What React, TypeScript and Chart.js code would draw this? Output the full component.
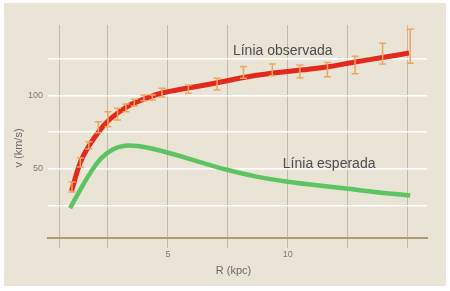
import React, { useEffect, useRef } from 'react';
import { Chart, registerables } from 'chart.js';

Chart.register(...registerables);

// Observed data points (R in kpc, v in km/s) with error half-widths
const obsR = [1.0, 1.35, 1.7, 2.1, 2.5, 2.9, 3.25, 3.6, 4.0, 4.35, 4.75, 5.85, 7.05, 8.15, 9.35, 10.5, 11.65, 12.8, 13.95, 15.1];
const obsV = [37.7, 54.4, 66.1, 78.4, 83.9, 87.4, 91.6, 95.1, 98.4, 98.6, 102, 104.3, 107.7, 115.7, 117.4, 116.3, 117.6, 120.8, 128.5, 133.5];
const obsErr = [3.4, 3, 2.5, 3.7, 5.1, 4, 2.6, 2.3, 2, 1.7, 3, 2.8, 4, 4, 4, 4.4, 4.8, 6, 7, 11.6];

// Observed curve (red)
const fitR = [0.98, 1.35, 1.7, 2.17, 2.5, 2.9, 3.25, 3.6, 4.0, 4.75, 5.6, 7.0, 8.4, 10.5, 11.6, 12.8, 14.0, 15.05];
const fitV = [35, 54.5, 65.5, 76.5, 82.6, 88, 92, 95, 97.6, 101.7, 104.4, 108.5, 113, 117.3, 119.4, 122.8, 126, 128.9];

// Expected curve (green)
const expR = [0.92, 1.25, 1.75, 2.2, 2.7, 3.2, 3.75, 4.4, 5.2, 6.3, 7.5, 8.7, 10, 11.2, 12.5, 13.7, 15.1];
const expV = [23.4, 33, 47, 57, 63.3, 65.8, 65.6, 63.6, 60.2, 54.8, 49.3, 44.8, 41.3, 38.9, 36.5, 34.2, 32];

const xGridTicks = [0.5, 2.5, 5, 7.5, 10, 12.5, 15];
const xTickLabels = [5, 10];
const yGridTicks = [25, 50, 75, 100, 125];
const yTickLabels = [50, 100];

const xTitle = 'R (kpc)';
const yTitle = 'v (km/s)';
const annotationTexts = ['Línia observada', 'Línia esperada'];
const annotationR = [7.71, 9.79];
const annotationV = [127.6, 50.6];

const FONT = '"Liberation Sans", Arial, Helvetica, sans-serif';

export default function App() {
  const canvasRef = useRef<HTMLCanvasElement | null>(null);

  useEffect(() => {
    const canvas = canvasRef.current;
    if (!canvas) return;

    const bgPlugin = {
      id: 'bg',
      beforeDraw(chart: any) {
        const { ctx } = chart;
        ctx.save();
        ctx.fillStyle = '#ffffff';
        ctx.fillRect(0, 0, chart.width, chart.height);
        ctx.fillStyle = '#e9e4d5';
        ctx.fillRect(4, 3, 442, 283);
        ctx.restore();
      },
    };

    const errPlugin = {
      id: 'errbars',
      afterDatasetsDraw(chart: any) {
        const { ctx } = chart;
        const xs = chart.scales.x;
        const ys = chart.scales.y;
        ctx.save();
        ctx.strokeStyle = '#f0a55c';
        ctx.lineWidth = 1.5;
        obsR.forEach((r, i) => {
          const px = xs.getPixelForValue(r);
          const top = ys.getPixelForValue(obsV[i] + obsErr[i]);
          const bot = ys.getPixelForValue(obsV[i] - obsErr[i]);
          ctx.beginPath();
          ctx.moveTo(px, top);
          ctx.lineTo(px, bot);
          ctx.moveTo(px - 3.5, top);
          ctx.lineTo(px + 3.5, top);
          ctx.moveTo(px - 3.5, bot);
          ctx.lineTo(px + 3.5, bot);
          ctx.stroke();
        });
        ctx.restore();
      },
    };

    const textPlugin = {
      id: 'texts',
      afterDraw(chart: any) {
        const { ctx, chartArea } = chart;
        const xs = chart.scales.x;
        const ys = chart.scales.y;
        ctx.save();
        ctx.fillStyle = '#4d4d4d';
        ctx.font = `14px ${FONT}`;
        ctx.textAlign = 'left';
        ctx.textBaseline = 'alphabetic';
        annotationTexts.forEach((t, i) => {
          ctx.fillText(t, xs.getPixelForValue(annotationR[i]), ys.getPixelForValue(annotationV[i]));
        });
        ctx.fillStyle = '#6a6a6a';
        ctx.font = `11px ${FONT}`;
        ctx.textAlign = 'center';
        ctx.textBaseline = 'middle';
        ctx.fillText(xTitle, (chartArea.left + chartArea.right) / 2 - 4, 271);
        ctx.translate(19, 148);
        ctx.rotate(-Math.PI / 2);
        ctx.fillText(yTitle, 0, 0);
        ctx.restore();
      },
    };

    const chart = new Chart(canvas, {
      type: 'line',
      data: {
        datasets: [
          {
            label: 'observada',
            data: fitR.map((r, i) => ({ x: r, y: fitV[i] })),
            borderColor: '#e3281d',
            borderWidth: 5,
            pointRadius: 0,
            tension: 0.4,
            fill: false,
          },
          {
            label: 'esperada',
            data: expR.map((r, i) => ({ x: r, y: expV[i] })),
            borderColor: '#5ec463',
            borderWidth: 4.5,
            pointRadius: 0,
            tension: 0.4,
            fill: false,
          },
        ],
      },
      options: {
        responsive: false,
        animation: false,
        devicePixelRatio: 1,
        layout: { padding: { top: 25, right: 23, left: 0, bottom: 0 } },
        plugins: {
          legend: { display: false },
          tooltip: { enabled: false },
        },
        scales: {
          x: {
            type: 'linear',
            min: 0,
            max: 15.8,
            afterBuildTicks: (scale: any) => {
              scale.ticks = xGridTicks.map((v) => ({ value: v }));
            },
            afterFit: (scale: any) => {
              scale.height = 53;
            },
            grid: {
              color: '#c3baa3',
              lineWidth: 1,
              tickLength: 10,
              drawTicks: true,
            },
            border: { display: true, color: '#ab9c74', width: 2 },
            ticks: {
              autoSkip: false,
              maxRotation: 0,
              padding: 1,
              color: '#7a7a7a',
              font: { size: 9, family: FONT },
              callback: (v: any) => (xTickLabels.includes(Number(v)) ? String(v) : ''),
            },
          },
          y: {
            type: 'linear',
            min: 3,
            max: 148,
            afterBuildTicks: (scale: any) => {
              scale.ticks = yGridTicks.map((v) => ({ value: v }));
            },
            afterFit: (scale: any) => {
              scale.width = 48;
            },
            grid: {
              color: '#ffffff',
              lineWidth: 1.5,
              drawTicks: false,
            },
            border: { display: false },
            ticks: {
              autoSkip: false,
              padding: 5,
              color: '#7a7a7a',
              font: { size: 9, family: FONT },
              callback: (v: any) => (yTickLabels.includes(Number(v)) ? String(v) : ''),
            },
          },
        },
      },
      plugins: [bgPlugin, errPlugin, textPlugin],
    } as any);

    return () => {
      chart.destroy();
    };
  }, []);

  return (
    <div style={{ position: 'fixed', left: 0, top: 0, width: 450, height: 291, background: '#fff' }}>
      <canvas ref={canvasRef} width={450} height={291} style={{ display: 'block', width: 450, height: 291 }} />
    </div>
  );
}
